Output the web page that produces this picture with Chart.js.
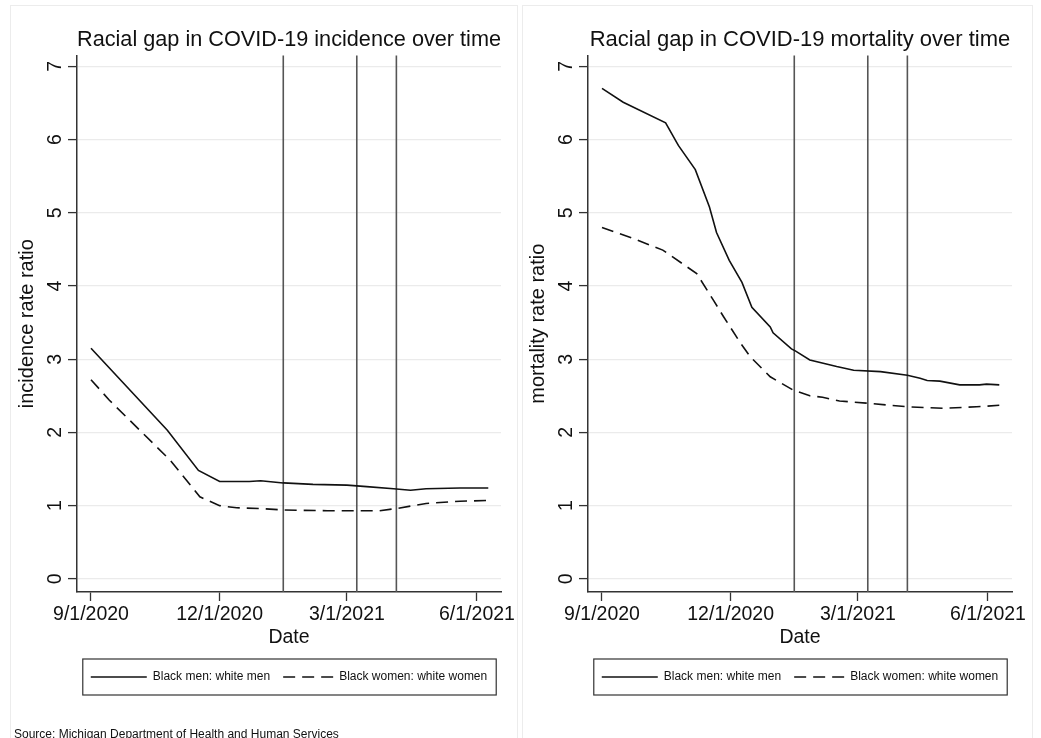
<!DOCTYPE html>
<html>
<head>
<meta charset="utf-8">
<script src="https://cdn.jsdelivr.net/npm/chart.js@4"></script>
<style>
  body { margin: 0; width: 1041px; height: 738px; overflow: hidden; background: #fff; position: relative; font-family: 'Liberation Sans', Arial, sans-serif; }
  .panel { position: absolute; top: 5px; width: 508px; height: 760px; border: 1px solid #ececec; box-sizing: border-box; }
  canvas { position: absolute; top: 5px; }
  #source { position: absolute; left: 14px; top: 727px; font-size: 12px; color: #111; white-space: nowrap; }
</style>
</head>
<body>
<div class="panel" style="left:10px"></div>
<div class="panel" style="left:522px; width:511px"></div>
<canvas id="incidenceChart" width="510" height="733" style="left:10px"></canvas>
<canvas id="mortalityChart" width="510" height="733" style="left:521px"></canvas>
<div id="source">Source: Michigan Department of Health and Human Services</div>
<script>
// days counted from 9/1/2020
const xTickDays = [0, 91, 181, 273];
const xTickLabels = ['9/1/2020', '12/1/2020', '3/1/2021', '6/1/2021'];
const yTicks = [0, 1, 2, 3, 4, 5, 6, 7];
const eventDays = [136, 188, 216];
const seriesNames = ['Black men: white men', 'Black women: white women'];

const incMenDays = [0, 54, 76, 91, 112, 120, 136, 157, 181, 195, 214, 226, 237, 261, 281];
const incMenRatio = [3.15, 2.03, 1.48, 1.33, 1.33, 1.34, 1.31, 1.29, 1.28, 1.26, 1.23, 1.21, 1.23, 1.24, 1.24];
const incWomenDays = [0, 13, 56, 77, 91, 103, 120, 136, 167, 204, 216, 237, 261, 281];
const incWomenRatio = [2.72, 2.44, 1.62, 1.12, 1.00, 0.97, 0.96, 0.94, 0.93, 0.93, 0.96, 1.03, 1.06, 1.07];

const morMenDays = [0, 15, 45, 54, 66, 76, 81, 90, 99, 106, 119, 121, 134, 137, 147, 166, 178, 197, 216, 225, 230, 239, 253, 267, 272, 281];
const morMenRatio = [6.70, 6.51, 6.23, 5.92, 5.59, 5.08, 4.73, 4.35, 4.05, 3.71, 3.44, 3.36, 3.14, 3.11, 2.99, 2.90, 2.85, 2.83, 2.78, 2.74, 2.71, 2.70, 2.65, 2.65, 2.66, 2.65];
const morWomenDays = [0, 22, 43, 67, 79, 86, 98, 105, 119, 135, 147, 156, 168, 187, 216, 241, 265, 281];
const morWomenRatio = [4.80, 4.65, 4.49, 4.17, 3.80, 3.58, 3.22, 3.03, 2.76, 2.58, 2.50, 2.48, 2.43, 2.40, 2.35, 2.33, 2.35, 2.37];

Chart.defaults.font.family = "'Liberation Sans', Arial, sans-serif";
Chart.defaults.color = '#111';

const toPoints = (days, vals) => days.map((d, i) => ({x: d, y: vals[i]}));

// centre title + legend on the plot, draw event lines and the legend frame
const panelPlugin = {
    id: 'panelPlugin',
    afterLayout(chart) {
        const {left, right} = chart.chartArea;
        [chart.titleBlock, chart.legend].forEach(b => {
            b.left = left;
            b.right = right;
            b.width = right - left;
        });
    },
    beforeDatasetsDraw(chart) {
        const {ctx, chartArea} = chart;
        const xs = chart.scales.x;
        ctx.save();
        ctx.strokeStyle = '#555';
        ctx.lineWidth = 1.6;
        eventDays.forEach(d => {
            const px = xs.getPixelForValue(d);
            ctx.beginPath();
            ctx.moveTo(px, chartArea.top);
            ctx.lineTo(px, chartArea.bottom);
            ctx.stroke();
        });
        ctx.restore();
    },
    afterDraw(chart) {
        const hb = chart.legend.legendHitBoxes;
        if (!hb || !hb.length) return;
        const x0 = Math.min(...hb.map(h => h.left)) - 8;
        const x1 = Math.max(...hb.map(h => h.left + h.width)) + 9;
        const cy = hb[0].top + hb[0].height / 2;
        const ctx = chart.ctx;
        ctx.save();
        ctx.strokeStyle = '#333';
        ctx.lineWidth = 1.2;
        ctx.strokeRect(x0, cy - 18, x1 - x0, 36);
        ctx.restore();
    }
};

// legend samples keep the dataset dash pattern
const legendLabels = chart => Chart.defaults.plugins.legend.labels.generateLabels(chart).map((item, i) => ({
    ...item,
    lineDash: chart.data.datasets[i].borderDash || [],
    lineDashOffset: 13,
    lineWidth: 1.6,
    strokeStyle: '#111'
}));

function makePanel(id, title, yTitle, men, women) {
    new Chart(document.getElementById(id).getContext('2d'), {
        type: 'line',
        data: {
            datasets: [{
                label: seriesNames[0],
                data: men,
                borderColor: '#111',
                borderWidth: 1.6,
                pointRadius: 0,
                tension: 0
            }, {
                label: seriesNames[1],
                data: women,
                borderColor: '#111',
                borderWidth: 1.6,
                borderDash: [12, 7],
                pointRadius: 0,
                tension: 0
            }]
        },
        options: {
            responsive: false,
            animation: false,
            devicePixelRatio: 1,
            layout: {padding: {left: 0, right: 19, top: 0, bottom: 45}},
            scales: {
                x: {
                    type: 'linear',
                    min: -9.9,
                    max: 290,
                    afterBuildTicks: s => { s.ticks = xTickDays.map(v => ({value: v})); },
                    afterFit: s => { s.height = 72; },
                    ticks: {
                        font: {size: 19.5},
                        color: '#111',
                        padding: 2,
                        maxRotation: 0,
                        callback: v => xTickLabels[xTickDays.indexOf(v)]
                    },
                    grid: {drawOnChartArea: false, tickLength: 9, tickColor: '#333', tickWidth: 1.3},
                    border: {color: '#333', width: 1.5},
                    title: {display: true, text: 'Date', font: {size: 19.5}, color: '#111', padding: {top: 0, bottom: 15}}
                },
                y: {
                    min: -0.18,
                    max: 7.15,
                    afterBuildTicks: s => { s.ticks = yTicks.map(v => ({value: v})); },
                    afterFit: s => { s.width = 67; },
                    ticks: {
                        font: {size: 19.5},
                        color: '#111',
                        padding: 7,
                        minRotation: 90,
                        maxRotation: 90,
                        crossAlign: 'center'
                    },
                    grid: {color: '#ebebeb', lineWidth: 1.2, tickLength: 9, tickColor: '#333', tickWidth: 1.3},
                    border: {color: '#333', width: 1.5},
                    title: {display: true, text: yTitle, font: {size: 20}, color: '#111', padding: {top: 5, bottom: 0}}
                }
            },
            plugins: {
                title: {
                    display: true,
                    text: title,
                    font: {size: 22, weight: 'normal'},
                    color: '#111',
                    padding: {top: 22, bottom: 2}
                },
                legend: {
                    position: 'bottom',
                    labels: {
                        usePointStyle: true,
                        pointStyle: 'line',
                        pointStyleWidth: 56,
                        padding: 7,
                        color: '#111',
                        font: {size: 12},
                        generateLabels: legendLabels
                    }
                },
                tooltip: {enabled: false}
            }
        },
        plugins: [panelPlugin]
    });
}

makePanel('incidenceChart', 'Racial gap in COVID-19 incidence over time', 'incidence rate ratio',
    toPoints(incMenDays, incMenRatio), toPoints(incWomenDays, incWomenRatio));
makePanel('mortalityChart', 'Racial gap in COVID-19 mortality over time', 'mortality rate ratio',
    toPoints(morMenDays, morMenRatio), toPoints(morWomenDays, morWomenRatio));
</script>
</body>
</html>
